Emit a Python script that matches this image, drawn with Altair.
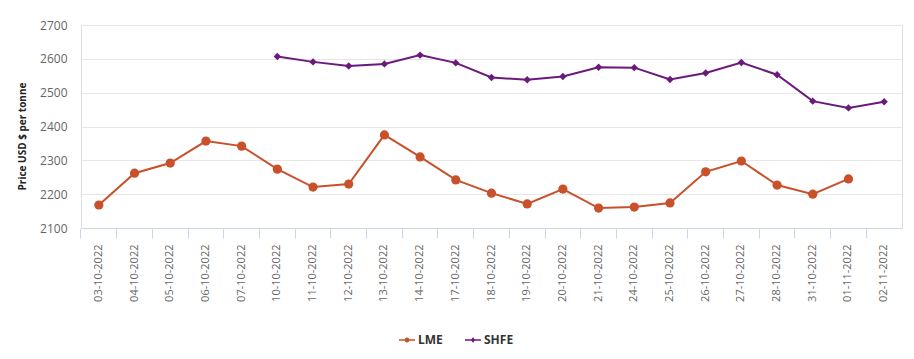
import altair as alt
import pandas as pd

dates = ["03-10-2022", "04-10-2022", "05-10-2022", "06-10-2022", "07-10-2022",
         "10-10-2022", "11-10-2022", "12-10-2022", "13-10-2022", "14-10-2022",
         "17-10-2022", "18-10-2022", "19-10-2022", "20-10-2022", "21-10-2022",
         "24-10-2022", "25-10-2022", "26-10-2022", "27-10-2022", "28-10-2022",
         "31-10-2022", "01-11-2022", "02-11-2022"]

lme = [2168, 2262, 2292, 2357, 2342, 2274, 2221, 2230, 2375, 2310,
       2242, 2203, 2171, 2215, 2159, 2162, 2174, 2266, 2298, 2227,
       2200, 2245, None]
shfe = [None, None, None, None, None, 2607, 2591, 2579, 2585, 2611,
        2588, 2545, 2538, 2548, 2575, 2574, 2539, 2558, 2589, 2553,
        2475, 2455, 2473]

series_names = ["LME", "SHFE"]
series_colors = ["#c8502a", "#6b1a7c"]
series_shapes = ["circle", "diamond"]

rows = []
for name, vals in zip(series_names, [lme, shfe]):
    for d, v in zip(dates, vals):
        if v is not None:
            rows.append({"date": d, "price": v, "series": name})
df = pd.DataFrame(rows)

LME_SYM = ("M-1,-0.09H1V0.09H-1Z "
           "M0.3,0A0.3,0.3 0 1,1 -0.3,0A0.3,0.3 0 1,1 0.3,0Z")
SHFE_SYM = ("M-1,-0.09H1V0.09H-1Z "
            "M0,-0.33L0.28,0L0,0.33L-0.28,0Z")

x = alt.X("date:N", sort=dates,
          scale=alt.Scale(type="band", domain=dates, paddingInner=0, paddingOuter=0),
          axis=alt.Axis(title=None, labelAngle=270, labelColor="#666666", labelFontSize=11,
                        labelPadding=6, bandPosition=0, tickSize=10, tickColor="#ccd6eb",
                        domainColor="#ccd6eb", grid=False, labelFont="Open Sans"))
y = alt.Y("price:Q",
          scale=alt.Scale(domain=[2100, 2700], nice=False, zero=False),
          axis=alt.Axis(values=list(range(2100, 2800, 100)), format="d",
                        title="Price USD $ per tonne",
                        domain=False, ticks=False, gridColor="#e6e6e6", labelColor="#666666",
                        labelFontSize=12, labelPadding=14, titleFontWeight="bold",
                        titleFontSize=10, titleColor="#222222", titlePadding=12, titleY=111,
                        labelFont="Open Sans", titleFont="Open Sans"))

legend = alt.Legend(title=None, orient="none", direction="horizontal",
                    legendX=318, legendY=307,
                    labelFontSize=12, labelColor="#333333", labelFontWeight="bold",
                    labelFont="Open Sans", symbolSize=256, labelOffset=3,
                    columnPadding=22, symbolOpacity=1, symbolStrokeWidth=0)
cscale = alt.Scale(domain=series_names, range=series_colors)

base = alt.Chart(df)
lines = base.mark_line(strokeWidth=2).encode(
    x=x, y=y, color=alt.Color("series:N", scale=cscale, legend=None), detail="series:N")
points = base.mark_point(filled=True, opacity=1).encode(
    x=x, y=y, color=alt.Color("series:N", scale=cscale, legend=None),
    shape=alt.Shape("series:N", scale=alt.Scale(domain=series_names, range=series_shapes),
                    legend=None),
    size=alt.Size("series:N", scale=alt.Scale(domain=series_names, range=[85, 55]), legend=None))
legend_layer = base.mark_point(filled=True, opacity=0, size=1).encode(
    x=x, y=y, color=alt.Color("series:N", scale=cscale, legend=legend),
    shape=alt.Shape("series:N", scale=alt.Scale(domain=series_names, range=[LME_SYM, SHFE_SYM]),
                    legend=legend))

chart = (alt.layer(lines, points, legend_layer)
         .resolve_scale(shape="independent", color="independent")
         .resolve_legend(shape="independent", color="independent")
         .properties(
             width=821, height=203,
             autosize=alt.AutoSizeParams(type="none"),
             padding={"left": 73, "top": 17, "right": 4, "bottom": 123},
         ).configure_view(stroke=None).configure(background="white"))

chart.save("out.html", embed_options={"renderer": "svg", "actions": False})
